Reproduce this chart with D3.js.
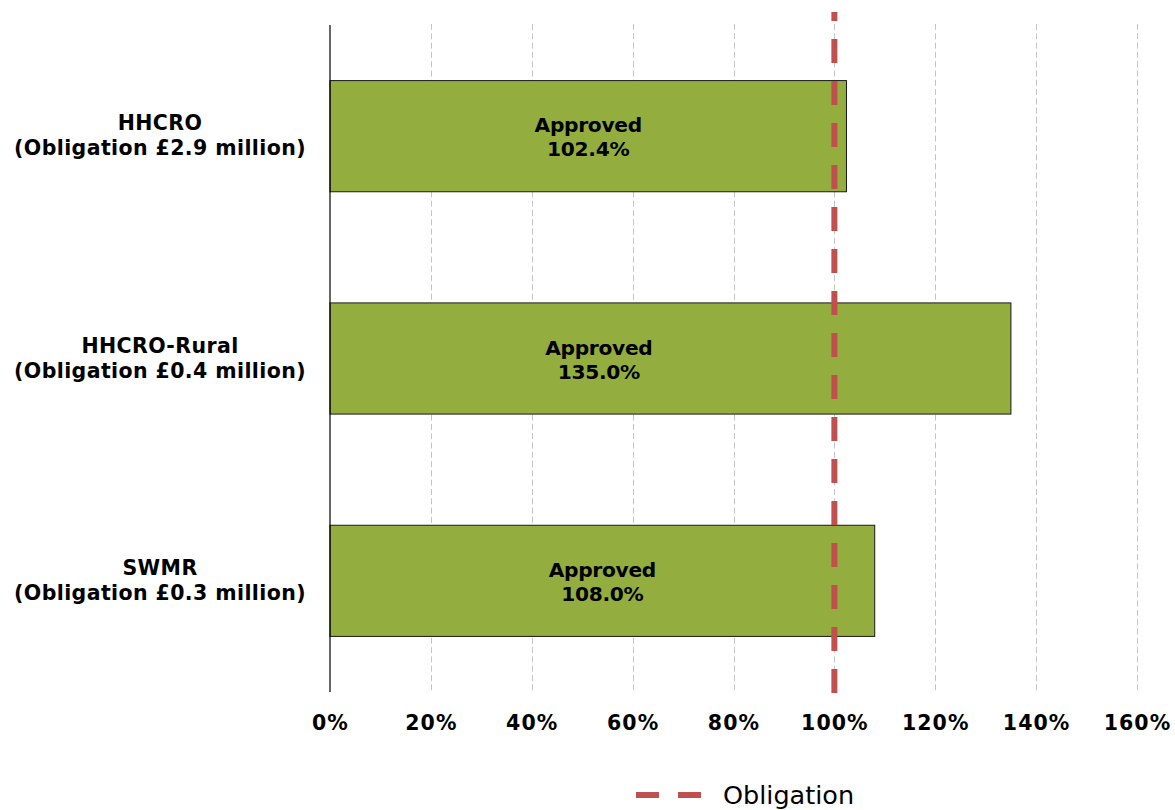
<!DOCTYPE html>
<html><head><meta charset="utf-8">
<script src="https://cdn.jsdelivr.net/npm/d3@7"></script>
<style>
html,body{margin:0;padding:0;background:#fff;}
svg{display:block;font-family:"DejaVu Sans",Verdana,sans-serif;}
</style></head>
<body>
<svg id="chart" width="1175" height="810"></svg>
<script>
const categories = ["HHCRO", "HHCRO-Rural", "SWMR"];
const obligations = ["£2.9 million", "£0.4 million", "£0.3 million"];
const values = [102.4, 135.0, 108.0];
const statusLabels = ["Approved", "Approved", "Approved"];
const labelPositions = [51.2, 53.3, 54.0];
const obligationLevel = 100;
const tickValues = [0, 20, 40, 60, 80, 100, 120, 140, 160];
const legendLabel = "Obligation";

const svg = d3.select("#chart");
const m = {left: 330, right: 1137, top: 25, bottom: 692};
const x = d3.scaleLinear().domain([0, 160]).range([m.left, m.right]);
const y = d3.scaleBand().domain(categories).range([m.top, m.bottom]).paddingInner(0.5).paddingOuter(0.25);

// gridlines
svg.append("g").selectAll("line").data(tickValues.filter(d => d > 0)).join("line")
  .attr("x1", d => Math.round(x(d)) + 0.5).attr("x2", d => Math.round(x(d)) + 0.5)
  .attr("y1", m.top - 1).attr("y2", m.bottom)
  .attr("stroke", "#c4c4c4").attr("stroke-width", 1).attr("stroke-dasharray", "6,3.3");

// bars
const data = categories.map((c, i) => ({c, v: values[i], o: obligations[i], s: statusLabels[i], p: labelPositions[i]}));
svg.append("g").selectAll("rect").data(data).join("rect")
  .attr("x", x(0)).attr("y", d => y(d.c))
  .attr("width", d => x(d.v) - x(0)).attr("height", y.bandwidth())
  .attr("fill", "#93ad3e").attr("stroke", "#1a1a1a").attr("stroke-width", 1);

// left axis line
svg.append("line").attr("x1", x(0)).attr("x2", x(0)).attr("y1", m.top).attr("y2", m.bottom)
  .attr("stroke", "#000").attr("stroke-width", 1.2);

// x axis tick labels
const xAxis = d3.axisBottom(x).tickValues(tickValues).tickSize(0).tickPadding(0).tickFormat(d => d + "%");
const gx = svg.append("g").attr("transform", `translate(0,${m.bottom})`).call(xAxis);
gx.select(".domain").remove();
gx.selectAll("text").attr("dy", null).attr("y", 38)
  .attr("font-family", "DejaVu Sans").attr("font-size", 20.5).attr("font-weight", "bold")
  .attr("letter-spacing", 1.1).attr("fill", "#000");

// category labels
const cl = svg.append("g").selectAll("text").data(data).join("text")
  .attr("x", 160).attr("text-anchor", "middle")
  .attr("font-size", 20.5).attr("font-weight", "bold").attr("letter-spacing", 0.4).attr("fill", "#000");
cl.append("tspan").attr("x", 160).attr("y", d => y(d.c) + y.bandwidth() / 2 - 6).text(d => d.c);
cl.append("tspan").attr("x", 160).attr("y", d => y(d.c) + y.bandwidth() / 2 + 19).text(d => "(Obligation " + d.o + ")");

// inside labels
const il = svg.append("g").selectAll("text").data(data).join("text")
  .attr("text-anchor", "middle").attr("font-size", 20.2).attr("font-weight", "bold")
  .attr("letter-spacing", -0.3).attr("fill", "#000");
il.append("tspan").attr("x", d => x(d.p)).attr("y", d => y(d.c) + y.bandwidth() / 2 - 4).text(d => d.s);
il.append("tspan").attr("x", d => x(d.p)).attr("y", d => y(d.c) + y.bandwidth() / 2 + 20).text(d => d.v.toFixed(1) + "%");

// obligation line (drawn bottom-up)
svg.append("line")
  .attr("x1", x(obligationLevel)).attr("x2", x(obligationLevel))
  .attr("y1", m.bottom + 1).attr("y2", 12)
  .attr("stroke", "#c0504d").attr("stroke-width", 6).attr("stroke-dasharray", "24,18");

// legend
const lg = svg.append("g");
lg.append("line").attr("x1", 636).attr("x2", 702).attr("y1", 795).attr("y2", 795)
  .attr("stroke", "#c0504d").attr("stroke-width", 6).attr("stroke-dasharray", "23,19");
lg.append("text").attr("x", 723).attr("y", 803.5).attr("font-size", 25.5).attr("fill", "#000").text(legendLabel);
</script>
</body></html>
